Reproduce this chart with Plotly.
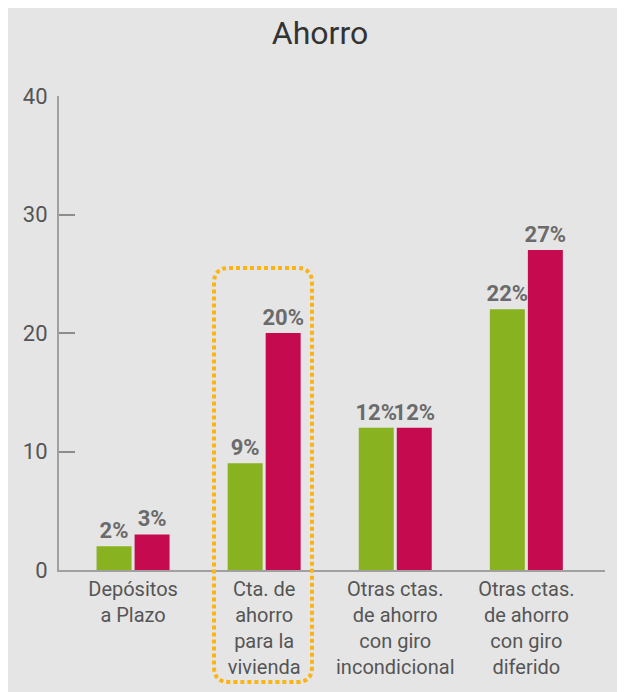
import plotly.graph_objects as go

# --- data ---
categories = [
    "Depósitos<br>a Plazo",
    "Cta. de<br>ahorro<br>para la<br>vivienda",
    "Otras ctas.<br>de ahorro<br>con giro<br>incondicional",
    "Otras ctas.<br>de ahorro<br>con giro<br>diferido",
]
serie_verde = [2, 9, 12, 22]
serie_roja = [3, 20, 12, 27]
y_ticks = [0, 10, 20, 30, 40]

GREEN = "#88b220"
MAGENTA = "#c60a4f"
BG = "#e5e5e5"
LABEL_FONT = dict(family="Roboto, sans-serif", size=22, color="#6b6b6b", weight="bold")

# page is offset by the 8px body margin
OFF = 8
W, H = 616, 684
# plot area in page pixels
PX0, PX1, PY0, PY1 = 59, 605, 96, 570


def px(x):
    return (x - PX0) / (PX1 - PX0)


def py(y):
    return (PY1 - y) / (PY1 - PY0)


fig = go.Figure()
for vals, color in [(serie_verde, GREEN), (serie_roja, MAGENTA)]:
    fig.add_trace(go.Bar(
        x=list(range(len(categories))),
        y=vals,
        marker=dict(color=color, line=dict(width=0)),
        text=[f"{v}%" for v in vals],
        textposition="outside",
        textfont=LABEL_FONT,
        constraintext="none",
        cliponaxis=False,
        showlegend=False,
    ))

# dotted rounded box around the second category
bx0, bx1, by0, by1, r = 214, 312, 268, 682, 15
path = (
    f"M {px(bx0 + r)},{py(by0)} L {px(bx1 - r)},{py(by0)} "
    f"Q {px(bx1)},{py(by0)} {px(bx1)},{py(by0 + r)} "
    f"L {px(bx1)},{py(by1 - r)} "
    f"Q {px(bx1)},{py(by1)} {px(bx1 - r)},{py(by1)} "
    f"L {px(bx0 + r)},{py(by1)} "
    f"Q {px(bx0)},{py(by1)} {px(bx0)},{py(by1 - r)} "
    f"L {px(bx0)},{py(by0 + r)} "
    f"Q {px(bx0)},{py(by0)} {px(bx0 + r)},{py(by0)} Z"
)
shapes = [dict(
    type="path", xref="paper", yref="paper", path=path,
    line=dict(color="#fbb315", width=4, dash="4px,3px"),
)]

fig.update_layout(
    width=W, height=H,
    margin=dict(l=PX0 - OFF, r=W + OFF - PX1, t=PY0 - OFF, b=H + OFF - PY1),
    paper_bgcolor=BG,
    plot_bgcolor=BG,
    bargap=0.42,
    bargroupgap=0.08,
    barmode="group",
    title=dict(
        text="Ahorro", x=(320 - OFF) / W, xanchor="center", xref="container",
        y=1 - (33 - OFF) / H, yanchor="middle", yref="container",
        font=dict(family="Roboto, sans-serif", size=32, color="#333333"),
    ),
    font=dict(family="Roboto, sans-serif", color="#5a5a5a"),
    shapes=shapes,
    xaxis=dict(
        range=[-0.565, 3.6],
        tickmode="array",
        tickvals=list(range(len(categories))),
        ticktext=categories,
        tickfont=dict(size=20, color="#555555"),
        showgrid=False, zeroline=False,
        showline=True, linecolor="#a0a0a0", linewidth=2,
        ticks="",
    ),
    yaxis=dict(
        range=[0, 40],
        tickvals=y_ticks,
        tickfont=dict(size=22, color="#555555"),
        ticklabelstandoff=5,
        showgrid=False, zeroline=False,
        showline=True, linecolor="#a0a0a0", linewidth=2,
        ticks="inside", ticklen=16, tickwidth=1.5, tickcolor="#8c8c8c",
    ),
)

fig.write_html("out.html")
